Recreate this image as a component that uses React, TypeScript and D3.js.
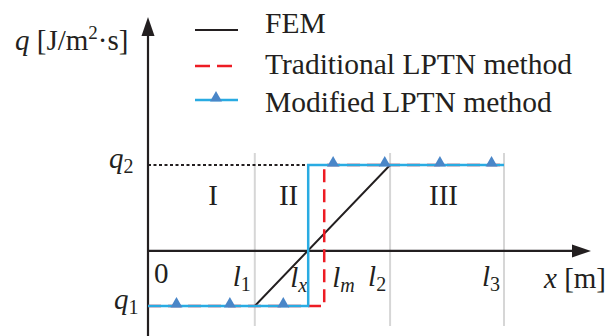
import React, { useRef, useEffect } from 'react';
import * as d3 from 'd3';

// flux levels and positions along x (arbitrary units)
const q1 = -1;
const q2 = 1.56;
const boundaryNames = ['1', '2', '3'];
const boundaryValues = [3, 6.8, 10];
const lx = 4.5;
const lm = 4.95;

const femX = [0, 3, 6.8, 10];
const femQ = [q1, q1, q2, q2];
const lptnX = [0, lm, lm, 10];
const lptnQ = [q1, q1, q2, q2];
const modX = [0, lx, lx, 10];
const modQ = [q1, q1, q2, q2];
const markerX = [0.8, 2.3, 3.8, 5.2, 6.65, 8.2, 9.65];

const regionNames = ['I', 'II', 'III'];
const regionCenters = [1.83, 3.95, 8.3];

const legendNames = ['FEM', 'Traditional LPTN method', 'Modified LPTN method'];

const FONT = 'Liberation Serif, Times New Roman, serif';
const BLACK = '#231f20';
const RED = '#ed1c24';
const BLUE = '#29abe2';
const MARK = '#4a86c8';
const GRAY = '#d6d6d6';

export default function App() {
    const svgRef = useRef<SVGSVGElement>(null);
    const width = 608;
    const height = 336;

    useEffect(() => {
        const svg = d3.select(svgRef.current);
        svg.selectAll('*').remove();

        const x = d3.scaleLinear().domain([0, 10]).range([148, 504]);
        const y = d3.scaleLinear().domain([q1, q2]).range([306, 165]);

        const line = d3.line<[number, number]>()
            .x(d => x(d[0]))
            .y(d => y(d[1]));

        // gray region boundaries
        svg.append('g')
            .selectAll('line')
            .data(boundaryValues)
            .join('line')
            .attr('x1', d => x(d))
            .attr('x2', d => x(d))
            .attr('y1', 153)
            .attr('y2', 326)
            .attr('stroke', GRAY)
            .attr('stroke-width', 2);

        // dotted q2 guide
        svg.append('line')
            .attr('x1', x(0))
            .attr('x2', x(lx))
            .attr('y1', y(q2))
            .attr('y2', y(q2))
            .attr('stroke', BLACK)
            .attr('stroke-width', 2)
            .attr('stroke-dasharray', '3,2.5');

        // axes
        const x0 = x(0);
        const y0 = y(0);
        svg.append('line')
            .attr('x1', x0).attr('x2', 574)
            .attr('y1', y0).attr('y2', y0)
            .attr('stroke', BLACK).attr('stroke-width', 2.2);
        svg.append('path')
            .attr('d', `M591,${y0} L572,${y0 - 6.5} L572,${y0 + 6.5} Z`)
            .attr('fill', BLACK);
        svg.append('line')
            .attr('x1', x0).attr('x2', x0)
            .attr('y1', height).attr('y2', 34)
            .attr('stroke', BLACK).attr('stroke-width', 2.2);
        svg.append('path')
            .attr('d', `M${x0},17 L${x0 - 6.5},36 L${x0 + 6.5},36 Z`)
            .attr('fill', BLACK);

        // FEM
        svg.append('path')
            .datum(femX.map((v, i) => [v, femQ[i]] as [number, number]))
            .attr('fill', 'none')
            .attr('stroke', BLACK)
            .attr('stroke-width', 2)
            .attr('d', line);

        // traditional LPTN
        svg.append('path')
            .datum(lptnX.map((v, i) => [v, lptnQ[i]] as [number, number]))
            .attr('fill', 'none')
            .attr('stroke', RED)
            .attr('stroke-width', 2.5)
            .attr('stroke-dasharray', '13,7')
            .attr('d', line);

        // modified LPTN
        svg.append('path')
            .datum(modX.map((v, i) => [v, modQ[i]] as [number, number]))
            .attr('fill', 'none')
            .attr('stroke', BLUE)
            .attr('stroke-width', 2.5)
            .attr('d', line);

        const tri = d3.symbol(d3.symbolTriangle, 62);
        svg.append('g')
            .selectAll('path')
            .data(markerX)
            .join('path')
            .attr('transform', d => `translate(${x(d)},${y(d < lx ? q1 : q2) - 2})`)
            .attr('d', tri)
            .attr('fill', MARK);

        const txt = (g: any, s: string, px: number, py: number, size = 29) =>
            g.append('text')
                .attr('x', px)
                .attr('y', py)
                .attr('font-family', FONT)
                .attr('font-size', size)
                .attr('fill', BLACK)
                .text(s);

        // y title
        const yt = svg.append('text')
            .attr('x', 15).attr('y', 50)
            .attr('font-family', FONT).attr('font-size', 29).attr('fill', BLACK);
        yt.append('tspan').attr('font-style', 'italic').text('q');
        yt.append('tspan').text(' [J/m');
        yt.append('tspan').attr('font-size', 19).attr('dy', -11).text('2');
        yt.append('tspan').attr('dy', 11).text('·s]');

        // x title
        const xt = svg.append('text')
            .attr('x', 544).attr('y', 288)
            .attr('font-family', FONT).attr('font-size', 29).attr('fill', BLACK);
        xt.append('tspan').attr('font-style', 'italic').text('x');
        xt.append('tspan').text(' [m]');

        // subscripted labels
        const sub = (base: string, s: string, px: number, py: number) => {
            const t = svg.append('text')
                .attr('x', px).attr('y', py)
                .attr('font-family', FONT).attr('font-size', 29).attr('fill', BLACK);
            t.append('tspan').attr('font-style', 'italic').text(base);
            t.append('tspan')
                .attr('font-size', 20)
                .attr('dy', 5)
                .attr('font-style', /^\d$/.test(s) ? 'normal' : 'italic')
                .text(s);
        };

        txt(svg, '0', x(0) + 6, 283);
        boundaryValues.forEach((v, i) => sub('l', boundaryNames[i], x(v) - 22, 286));
        sub('l', 'x', x(lx) - 18, 287);
        sub('l', 'm', x(lm) + 8, 287);
        sub('q', '1', 114, 309);
        sub('q', '2', 109, 168);

        // region labels
        regionNames.forEach((r, i) =>
            txt(svg, r, x(regionCenters[i]), 205).attr('text-anchor', 'middle'));

        // legend
        const legendLineY = [30, 66, 100];
        const legendTextY = [33, 74, 112];
        legendNames.forEach((name, i) => {
            const l = svg.append('line')
                .attr('x1', 195).attr('x2', 238)
                .attr('y1', legendLineY[i]).attr('y2', legendLineY[i])
                .attr('stroke-width', i === 0 ? 2 : 2.5)
                .attr('stroke', [BLACK, RED, BLUE][i]);
            if (i === 1) l.attr('stroke-dasharray', '15,7');
            if (i === 2) {
                svg.append('path')
                    .attr('transform', `translate(216,${legendLineY[i] - 2})`)
                    .attr('d', tri)
                    .attr('fill', MARK);
            }
            txt(svg, name, 265, legendTextY[i], 29.5);
        });
    }, []);

    return (
        <svg
            ref={svgRef}
            width={width}
            height={height}
            style={{ position: 'absolute', left: 0, top: 0, background: '#fff' }}
        />
    );
}
